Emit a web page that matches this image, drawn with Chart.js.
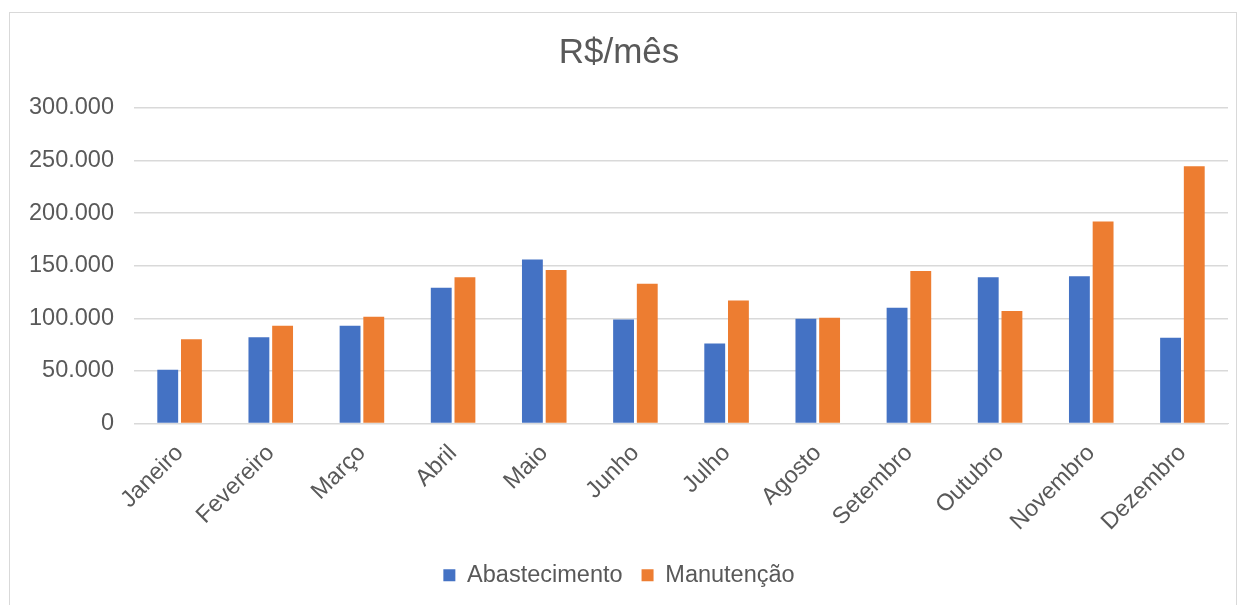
<!DOCTYPE html>
<html>
<head>
<meta charset="utf-8">
<script src="https://cdn.jsdelivr.net/npm/chart.js@4"></script>
<style>
  html, body { margin: 0; padding: 0; background: #fff; }
  .frame { position: absolute; left: 9px; top: 12px; width: 1228px; height: 620px; border: 1px solid #d9d9d9; box-sizing: border-box; }
  .wrap { position: absolute; left: 0; top: 0; width: 1246px; height: 605px; }
</style>
</head>
<body>
<div class="frame"></div>
<div class="wrap"><canvas id="gastosChart" width="1246" height="605"></canvas></div>
<script>
const meses = ['Janeiro', 'Fevereiro', 'Março', 'Abril', 'Maio', 'Junho', 'Julho', 'Agosto', 'Setembro', 'Outubro', 'Novembro', 'Dezembro'];
const abastecimento = [51000, 82000, 93000, 129000, 156000, 99000, 76000, 99500, 110000, 139000, 140000, 81500];
const manutencao = [80000, 93000, 101500, 139000, 146000, 133000, 117000, 100500, 145000, 107000, 192000, 244500];
const yTicks = [0, 50000, 100000, 150000, 200000, 250000, 300000];

const fonte = '"Liberation Sans", Arial, sans-serif';
const cinza = '#595959';

const data = {
  labels: meses,
  datasets: [
    {
      label: 'Abastecimento',
      backgroundColor: '#4472C4',
      data: abastecimento,
      categoryPercentage: 0.52,
      barPercentage: 0.88
    },
    {
      label: 'Manutenção',
      backgroundColor: '#ED7D31',
      data: manutencao,
      categoryPercentage: 0.52,
      barPercentage: 0.88
    }
  ]
};

const options = {
  responsive: false,
  animation: false,
  layout: { padding: { top: 12, right: 18, left: 10, bottom: 8 } },
  plugins: {
    title: {
      display: true,
      text: 'R$/mês',
      color: cinza,
      font: { family: fonte, size: 35, weight: 'normal' },
      padding: { top: 20, bottom: 34 }
    },
    legend: {
      position: 'bottom',
      labels: {
        boxWidth: 12,
        boxHeight: 12,
        padding: 19,
        color: cinza,
        font: { family: fonte, size: 23.5 }
      }
    },
    tooltip: { enabled: false }
  },
  scales: {
    x: {
      afterFit: axis => { axis.height = 121; },
      grid: { display: false },
      border: { display: true, color: '#d9d9d9' },
      ticks: {
        color: cinza,
        font: { family: fonte, size: 23.5 },
        minRotation: 45,
        maxRotation: 45,
        padding: 8
      }
    },
    y: {
      min: 0,
      max: 300000,
      afterBuildTicks: axis => { axis.ticks = yTicks.map(v => ({ value: v })); },
      afterFit: axis => { axis.width = 124; },
      grid: { color: '#d9d9d9', lineWidth: 1.5, drawTicks: false },
      border: { display: false },
      ticks: {
        color: cinza,
        font: { family: fonte, size: 23.5 },
        padding: 20,
        callback: v => v.toLocaleString('pt-BR')
      }
    }
  }
};

const ctx = document.getElementById('gastosChart').getContext('2d');
const grafico = new Chart(ctx, {
  type: 'bar',
  data: data,
  options: options
});
</script>
</body>
</html>
